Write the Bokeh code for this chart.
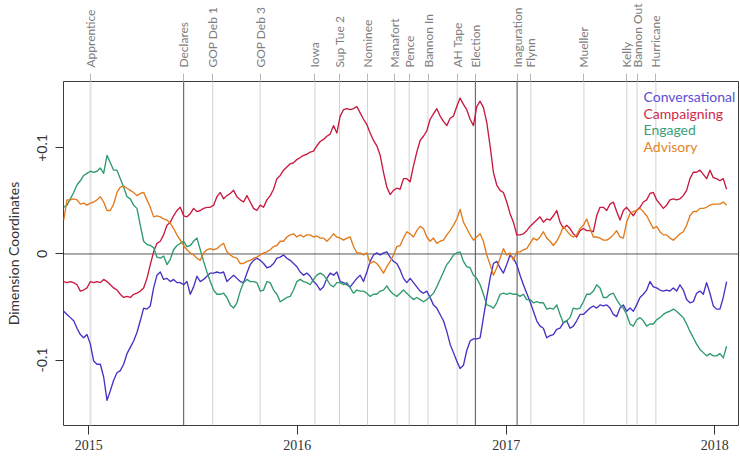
import pandas as pd
from bokeh.plotting import figure
from bokeh.models import (Range1d, LinearAxis, FixedTicker, Span, Label,
                          CustomJSTickFormatter, ColumnDataSource)
from bokeh.embed import file_html
from bokeh.resources import INLINE

# ---------------- data ----------------
series_names = ["Conversational", "Campaigning", "Engaged", "Advisory"]

conversational = [
    -0.054, -0.057, -0.060, -0.063, -0.070, -0.076, -0.079, -0.076, -0.085, -0.101,
    -0.104, -0.104, -0.116, -0.138, -0.129, -0.119, -0.112, -0.110, -0.104, -0.094,
    -0.088, -0.082, -0.074, -0.063, -0.051, -0.052, -0.049, -0.032, -0.020, -0.017,
    -0.024, -0.023, -0.026, -0.024, -0.027, -0.027, -0.029, -0.026, -0.038, -0.031,
    -0.021, -0.026, -0.024, -0.021, -0.018, -0.018, -0.017, -0.018, -0.017, -0.026,
    -0.023, -0.020, -0.023, -0.026, -0.027, -0.018, -0.010, -0.006, -0.004, -0.006,
    -0.009, -0.013, -0.012, -0.009, -0.004, -0.003, -0.001, -0.004, -0.006,
    -0.009, -0.012, -0.017, -0.020, -0.018, -0.021, -0.026, -0.029, -0.034, -0.031,
    -0.023, -0.018, -0.020, -0.017, -0.026, -0.027, -0.029, -0.031, -0.027, -0.023,
    -0.020, -0.026, -0.017, -0.007, -0.001, 0.001, -0.001, 0.001, 0.002, -0.003,
    -0.007, -0.009, -0.015, -0.023, -0.027, -0.023, -0.027, -0.031, -0.035, -0.037,
    -0.035, -0.041, -0.048, -0.051, -0.057, -0.063, -0.073, -0.085, -0.093, -0.101,
    -0.108, -0.105, -0.091, -0.082, -0.080, -0.080, -0.079, -0.060, -0.041, -0.023,
    -0.009, -0.007, -0.013, -0.018, -0.010, -0.001, -0.004, -0.010,
    -0.020, -0.029, -0.037, -0.045, -0.054, -0.063, -0.068, -0.070, -0.079, -0.077,
    -0.076, -0.071, -0.070, -0.065, -0.063, -0.070, -0.068, -0.063, -0.057, -0.057,
    -0.054, -0.051, -0.049, -0.051, -0.048, -0.049, -0.048, -0.051, -0.057, -0.059,
    -0.051, -0.048, -0.054, -0.051, -0.054, -0.048, -0.041, -0.038, -0.034, -0.026,
    -0.031, -0.032, -0.034, -0.035, -0.034, -0.035, -0.032, -0.035, -0.029, -0.034,
    -0.043, -0.046, -0.045, -0.037, -0.035, -0.038, -0.027, -0.037, -0.049, -0.052,
    -0.052, -0.041, -0.026,
]

campaigning = [
    -0.026, -0.027, -0.026, -0.027, -0.029, -0.035, -0.034, -0.032, -0.026, -0.027,
    -0.026, -0.027, -0.024, -0.026, -0.029, -0.032, -0.034, -0.038, -0.041, -0.040,
    -0.041, -0.038, -0.037, -0.035, -0.032, -0.023, -0.010, 0.002, 0.010, 0.012,
    0.018, 0.027, 0.030, 0.036, 0.041, 0.044, 0.036, 0.035, 0.038, 0.043,
    0.040, 0.041, 0.043, 0.044, 0.044, 0.046, 0.054, 0.058, 0.052, 0.055,
    0.057, 0.060, 0.054, 0.051, 0.049, 0.055, 0.049, 0.043, 0.041, 0.046,
    0.044, 0.051, 0.055, 0.061, 0.071, 0.074, 0.079, 0.082, 0.085,
    0.086, 0.089, 0.091, 0.093, 0.094, 0.096, 0.097, 0.102, 0.106, 0.108,
    0.111, 0.113, 0.121, 0.114, 0.130, 0.136, 0.137, 0.136, 0.137, 0.139,
    0.133, 0.127, 0.122, 0.114, 0.107, 0.102, 0.093, 0.077, 0.063, 0.056,
    0.060, 0.062, 0.061, 0.071, 0.071, 0.068, 0.083, 0.096, 0.107, 0.111,
    0.116, 0.127, 0.132, 0.137, 0.130, 0.125, 0.121, 0.128, 0.130, 0.139,
    0.147, 0.141, 0.136, 0.127, 0.121, 0.139, 0.144, 0.138, 0.124, 0.102,
    0.077, 0.065, 0.060, 0.058, 0.049, 0.038, 0.030, 0.018,
    0.018, 0.019, 0.022, 0.026, 0.029, 0.032, 0.035, 0.030, 0.033, 0.032,
    0.036, 0.041, 0.030, 0.024, 0.027, 0.024, 0.019, 0.016, 0.022, 0.024,
    0.022, 0.022, 0.021, 0.036, 0.044, 0.044, 0.041, 0.047, 0.049, 0.040,
    0.032, 0.041, 0.044, 0.040, 0.036, 0.041, 0.044, 0.049, 0.051, 0.057,
    0.058, 0.051, 0.047, 0.043, 0.046, 0.051, 0.052, 0.051, 0.052, 0.055,
    0.060, 0.071, 0.077, 0.077, 0.079, 0.075, 0.071, 0.079, 0.072, 0.071,
    0.069, 0.071, 0.061,
]

engaged = [
    0.044, 0.046, 0.052, 0.058, 0.065, 0.069, 0.074, 0.076, 0.078, 0.077,
    0.078, 0.081, 0.076, 0.093, 0.086, 0.079, 0.079, 0.071, 0.063, 0.054,
    0.052, 0.046, 0.043, 0.027, 0.012, 0.009, 0.008, 0.006, -0.003, -0.004,
    -0.002, -0.010, -0.005, 0.004, 0.008, 0.010, 0.012, 0.007, 0.008, 0.012,
    0.015, 0.004, -0.007, -0.017, -0.026, -0.034, -0.038, -0.038, -0.037, -0.041,
    -0.048, -0.051, -0.046, -0.035, -0.027, -0.024, -0.026, -0.026, -0.027, -0.035,
    -0.034, -0.026, -0.027, -0.034, -0.038, -0.045, -0.043, -0.041, -0.040,
    -0.034, -0.026, -0.024, -0.026, -0.027, -0.029, -0.024, -0.020, -0.018, -0.020,
    -0.024, -0.029, -0.031, -0.027, -0.027, -0.029, -0.027, -0.032, -0.037, -0.034,
    -0.035, -0.035, -0.037, -0.040, -0.038, -0.038, -0.035, -0.034, -0.030, -0.035,
    -0.038, -0.040, -0.037, -0.034, -0.037, -0.040, -0.043, -0.041, -0.043, -0.045,
    -0.043, -0.040, -0.037, -0.031, -0.024, -0.017, -0.010, -0.006, -0.001, 0.001,
    0.002, -0.007, -0.012, -0.013, -0.020, -0.023, -0.029, -0.038, -0.048, -0.049,
    -0.051, -0.046, -0.038, -0.037, -0.038, -0.037, -0.038, -0.038,
    -0.040, -0.038, -0.043, -0.043, -0.046, -0.045, -0.046, -0.046, -0.052, -0.051,
    -0.052, -0.048, -0.057, -0.065, -0.063, -0.060, -0.051, -0.052, -0.051, -0.045,
    -0.038, -0.038, -0.035, -0.029, -0.032, -0.041, -0.041, -0.038, -0.037, -0.043,
    -0.048, -0.051, -0.057, -0.066, -0.068, -0.062, -0.060, -0.063, -0.068, -0.066,
    -0.066, -0.062, -0.060, -0.057, -0.055, -0.054, -0.052, -0.054, -0.057, -0.060,
    -0.066, -0.073, -0.079, -0.085, -0.090, -0.093, -0.096, -0.094, -0.096, -0.096,
    -0.094, -0.098, -0.087,
]

advisory = [
    0.032, 0.051, 0.051, 0.052, 0.051, 0.047, 0.048, 0.046, 0.048, 0.049,
    0.051, 0.054, 0.049, 0.041, 0.041, 0.047, 0.058, 0.063, 0.064, 0.062,
    0.060, 0.058, 0.055, 0.057, 0.058, 0.051, 0.044, 0.035, 0.036, 0.035,
    0.033, 0.032, 0.029, 0.024, 0.018, 0.013, 0.008, 0.004, 0.001, -0.001,
    -0.004, -0.006, 0.001, 0.004, 0.005, 0.004, 0.005, 0.008, 0.010, 0.002,
    -0.001, -0.003, -0.004, -0.009, -0.009, -0.007, -0.006, -0.004, -0.003, -0.001,
    0.001, 0.002, 0.004, 0.007, 0.008, 0.012, 0.012, 0.016, 0.018,
    0.019, 0.016, 0.018, 0.016, 0.018, 0.018, 0.016, 0.017, 0.015, 0.015,
    0.012, 0.015, 0.019, 0.016, 0.015, 0.013, 0.015, 0.016, 0.007, 0.001,
    0.001, -0.001, 0.001, -0.009, -0.007, -0.009, -0.013, -0.018, -0.012, -0.007,
    -0.001, 0.007, 0.008, 0.015, 0.021, 0.019, 0.016, 0.022, 0.026, 0.024,
    0.016, 0.012, 0.015, 0.010, 0.012, 0.013, 0.018, 0.022, 0.027, 0.033,
    0.042, 0.030, 0.024, 0.018, 0.013, 0.016, 0.019, 0.012, -0.001, -0.010,
    -0.020, -0.013, -0.004, 0.005, -0.001, 0.001, -0.006, 0.002,
    0.002, 0.004, 0.005, 0.010, 0.015, 0.013, 0.016, 0.021, 0.015, 0.012,
    0.008, 0.012, 0.018, 0.026, 0.022, 0.018, 0.016, 0.018, 0.024, 0.027,
    0.033, 0.024, 0.016, 0.016, 0.015, 0.013, 0.013, 0.015, 0.018, 0.022,
    0.016, 0.015, 0.030, 0.038, 0.040, 0.041, 0.043, 0.040, 0.036, 0.030,
    0.024, 0.026, 0.021, 0.018, 0.018, 0.015, 0.013, 0.016, 0.019, 0.021,
    0.027, 0.036, 0.040, 0.040, 0.043, 0.043, 0.044, 0.046, 0.047, 0.047,
    0.047, 0.049, 0.046,
]

# sample dates: regular grid, one sample every 140 hours
start_date = "2014-11-18"
sample_step = "140h"

event_names = ["Apprentice", "Declares", "GOP Deb 1", "GOP Deb 3", "Iowa", "Sup Tue 2",
               "Nominee", "Manafort", "Pence", "Bannon In", "AH Tape", "Election",
               "Inaguration", "Flynn", "Mueller", "Kelly", "Bannon Out", "Hurricane"]
event_dates = ["2015-01-04", "2015-06-16", "2015-08-06", "2015-10-28", "2016-02-01",
               "2016-03-15", "2016-05-03", "2016-06-20", "2016-07-15", "2016-08-17",
               "2016-10-07", "2016-11-08", "2017-01-20", "2017-02-13", "2017-05-17",
               "2017-07-31", "2017-08-18", "2017-09-20"]
major_events = ["Declares", "Election", "Inaguration"]

year_ticks = ["2015-01-01", "2016-01-01", "2017-01-01", "2018-01-01"]
y_ticks = [-0.1, 0.0, 0.1]

# ---------------- styling ----------------
FONT = "Lato"
colors = {"Conversational": "#4632c4", "Campaigning": "#c8193f",
          "Engaged": "#2f9a6c", "Advisory": "#e27b1d"}
legend_colors = {"Conversational": "#5b4fd2", "Campaigning": "#cf2a4c",
                 "Engaged": "#3a9f78", "Advisory": "#e3842c"}


def ms(d):
    return pd.Timestamp(d).value / 1e6


dates = pd.date_range(start_date, periods=len(conversational), freq=sample_step)
source = ColumnDataSource(dict(date=dates, Conversational=conversational,
                               Campaigning=campaigning, Engaged=engaged,
                               Advisory=advisory))

p = figure(width=740, height=456, output_backend="svg", toolbar_location=None,
           x_axis_type=None, y_axis_type=None,
           x_range=Range1d(ms("2014-11-17 16:00"), ms("2018-02-11 16:00")),
           y_range=Range1d(-0.1617, 0.1626),
           min_border_left=63, min_border_right=2, min_border_top=78,
           min_border_bottom=31)
p.grid.visible = False
p.outline_line_color = "#3c3c3c"
p.outline_line_width = 1
p.background_fill_color = "white"
p.border_fill_color = "white"

# event lines
for name, d in zip(event_names, event_dates):
    if name in major_events:
        p.add_layout(Span(location=ms(d), dimension="height", line_color="#6e6e6e",
                          line_width=1.2, level="underlay"))
    elif name == "Apprentice":
        p.add_layout(Span(location=ms(d), dimension="height", line_color="#e3e3e3",
                          line_width=2, level="underlay"))
    else:
        p.add_layout(Span(location=ms(d), dimension="height", line_color="#d2d2d2",
                          line_width=1, level="underlay"))

p.add_layout(Span(location=0, dimension="width", line_color="#555555",
                  line_width=1, level="underlay"))

for name in series_names:
    p.line("date", name, source=source, line_color=colors[name], line_width=1.35,
           line_join="round")

# bottom axis (years)
xa = LinearAxis(ticker=FixedTicker(ticks=[ms(d) for d in year_ticks]),
                formatter=CustomJSTickFormatter(
                    code="return String(new Date(tick).getUTCFullYear());"))
xa.axis_line_color = None
xa.major_tick_out = 9
xa.major_tick_in = 0
xa.major_tick_line_color = "#333333"
xa.minor_tick_line_color = None
xa.major_label_standoff = 5
xa.major_label_text_font = "Liberation Sans Narrow"
xa.major_label_text_font_size = "14px"
xa.major_label_text_color = "#333333"
p.add_layout(xa, "below")

# top axis (events)
ev_ms = [ms(d) for d in event_dates]
ta = LinearAxis(ticker=FixedTicker(ticks=ev_ms),
                formatter=CustomJSTickFormatter(
                    args=dict(evt_names=event_names, evt_ticks=ev_ms),
                    code="""
let best = -1, bd = Infinity;
for (let i = 0; i < evt_ticks.length; i++) {
  const d = Math.abs(evt_ticks[i] - tick);
  if (d < bd) { bd = d; best = i; }
}
return (best >= 0 && bd < 1e6) ? evt_names[best] : "";
"""))
ta.axis_line_color = None
ta.major_tick_out = 8
ta.major_tick_in = 0
ta.major_tick_line_color = "#b8b8b8"
ta.minor_tick_line_color = None
ta.major_label_orientation = "vertical"
ta.major_label_standoff = 6
ta.major_label_text_font = FONT
ta.major_label_text_font_size = "12px"
ta.major_label_text_color = "#7d7d7d"
p.add_layout(ta, "above")

# left axis
ya = LinearAxis(ticker=FixedTicker(ticks=y_ticks),
                formatter=CustomJSTickFormatter(code="""
if (Math.abs(tick) < 1e-9) return "0";
return (tick > 0 ? "+" : "") + tick.toFixed(1);
"""))
ya.axis_line_color = None
ya.major_tick_out = 8
ya.major_tick_in = 0
ya.major_tick_line_color = "#333333"
ya.minor_tick_line_color = None
ya.major_label_orientation = "vertical"
ya.major_label_standoff = 8
ya.major_label_text_font = FONT
ya.major_label_text_font_size = "14px"
ya.major_label_text_color = "#333333"
ya.axis_label = "Dimension Coordinates"
ya.axis_label_text_font = FONT
ya.axis_label_text_font_style = "normal"
ya.axis_label_text_font_size = "14px"
ya.axis_label_text_color = "#333333"
ya.axis_label_standoff = 13
p.add_layout(ya, "left")

# text legend (screen units relative to the plot frame)
for i, name in enumerate(series_names):
    p.add_layout(Label(x=580, y=329 - 16.5 * i, x_units="screen", y_units="screen",
                       text=name, text_color=legend_colors[name], text_font=FONT,
                       text_font_size="14px", text_baseline="middle",
                       text_align="left"))

open("out.html", "w").write(file_html(p, INLINE))
